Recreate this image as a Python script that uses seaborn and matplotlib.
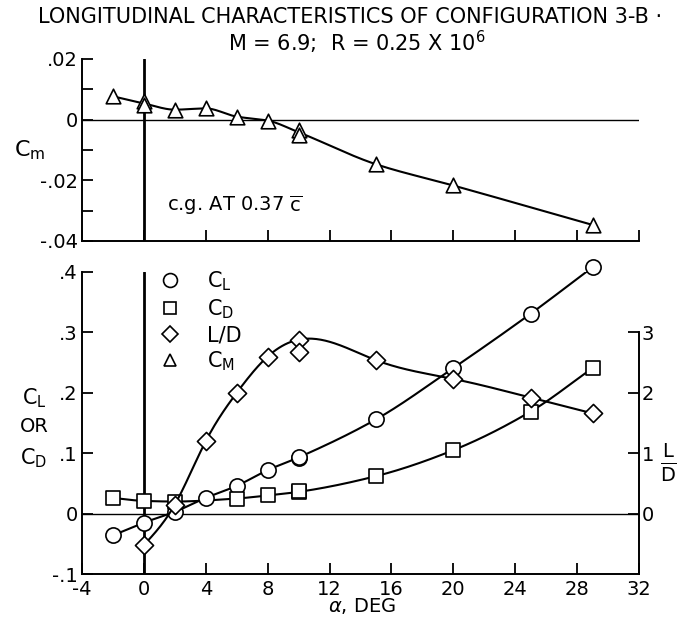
import numpy as np
import matplotlib
matplotlib.use("Agg")
import matplotlib.pyplot as plt
from matplotlib.lines import Line2D
import seaborn as sns

# Pitching moment, C_m
alpha_cm = [-2, 0, 0, 2, 4, 6, 8, 10, 10, 15, 20, 29]
cm = [0.0077, 0.0060, 0.0047, 0.0033, 0.0037, 0.0010, -0.0003, -0.0033, -0.0050, -0.0147, -0.0217, -0.0347]

# Lift coefficient, C_L
alpha_cl = [-2, 0, 2, 4, 6, 8, 10, 10, 15, 20, 25, 29]
cl = [-0.036, -0.015, 0.003, 0.026, 0.046, 0.072, 0.092, 0.094, 0.156, 0.241, 0.331, 0.408]

# Drag coefficient, C_D
alpha_cd = [-2, 0, 2, 6, 8, 10, 10, 15, 20, 25, 29]
cd = [0.026, 0.021, 0.020, 0.025, 0.030, 0.035, 0.037, 0.062, 0.105, 0.169, 0.241]

# Lift-drag ratio, L/D
alpha_ld = [0, 2, 4, 6, 8, 10, 10, 15, 20, 25, 29]
ld = [-0.52, 0.15, 1.20, 2.00, 2.60, 2.88, 2.67, 2.54, 2.23, 1.92, 1.66]

x_ticks = [-4, 0, 4, 8, 12, 16, 20, 24, 28, 32]
cm_ticks = [0.02, 0.0, -0.02, -0.04]
cm_ticklabels = [".02", "0", "-.02", "-.04"]
c_ticks = [0.4, 0.3, 0.2, 0.1, 0.0, -0.1]
c_ticklabels = [".4", ".3", ".2", ".1", "0", "-.1"]
ld_ticks = [3, 2, 1, 0]
ld_ticklabels = ["3", "2", "1", "0"]


def _group(x, y, agg):
    x = np.asarray(x, float)
    y = np.asarray(y, float)
    xs = np.unique(x)
    ys = np.array([agg(y[x == v]) for v in xs])
    return xs, ys


def faired_spline(x, y, agg=np.mean, n=300):
    """Natural cubic spline through the (aggregated) test points."""
    xs, ys = _group(x, y, agg)
    m = len(xs)
    h = np.diff(xs)
    A = np.zeros((m, m))
    b = np.zeros(m)
    A[0, 0] = A[-1, -1] = 1.0
    for i in range(1, m - 1):
        A[i, i - 1] = h[i - 1]
        A[i, i] = 2 * (h[i - 1] + h[i])
        A[i, i + 1] = h[i]
        b[i] = 3 * ((ys[i + 1] - ys[i]) / h[i] - (ys[i] - ys[i - 1]) / h[i - 1])
    c = np.linalg.solve(A, b)
    xx = np.linspace(xs[0], xs[-1], n)
    idx = np.clip(np.searchsorted(xs, xx) - 1, 0, m - 2)
    dx = xx - xs[idx]
    hi = h[idx]
    bb = (ys[idx + 1] - ys[idx]) / hi - hi * (2 * c[idx] + c[idx + 1]) / 3
    dd = (c[idx + 1] - c[idx]) / (3 * hi)
    return xx, ys[idx] + bb * dx + c[idx] * dx ** 2 + dd * dx ** 3


def faired_pchip(x, y, agg=np.mean, n=300):
    """Shape-preserving (monotone) cubic through the (aggregated) test points."""
    xs, ys = _group(x, y, agg)
    h = np.diff(xs)
    delta = np.diff(ys) / h
    d = np.zeros_like(ys)
    for k in range(1, len(xs) - 1):
        if delta[k - 1] * delta[k] > 0:
            w1 = 2 * h[k] + h[k - 1]
            w2 = h[k] + 2 * h[k - 1]
            d[k] = (w1 + w2) / (w1 / delta[k - 1] + w2 / delta[k])
    d[0] = delta[0]
    d[-1] = delta[-1]
    xx = np.linspace(xs[0], xs[-1], n)
    idx = np.clip(np.searchsorted(xs, xx) - 1, 0, len(xs) - 2)
    t = (xx - xs[idx]) / h[idx]
    h00 = 2 * t ** 3 - 3 * t ** 2 + 1
    h10 = t ** 3 - 2 * t ** 2 + t
    h01 = -2 * t ** 3 + 3 * t ** 2
    h11 = t ** 3 - t ** 2
    yy = h00 * ys[idx] + h10 * h[idx] * d[idx] + h01 * ys[idx + 1] + h11 * h[idx] * d[idx + 1]
    return xx, yy


sns.set_theme(style="white")
plt.rcParams["font.family"] = ["DejaVu Sans"]
plt.rcParams["mathtext.fontset"] = "dejavusans"
for key in ("text.color", "axes.labelcolor", "xtick.color", "ytick.color",
            "xtick.labelcolor", "ytick.labelcolor"):
    plt.rcParams[key] = "black"

W, H = 680, 621
fig = plt.figure(figsize=(W / 100, H / 100), dpi=100)
fig.patch.set_facecolor("white")

x0, x1 = 82, 639


def axes_px(left, right, top, bottom):
    return fig.add_axes([left / W, 1 - bottom / H, (right - left) / W, (bottom - top) / H])


ax_top = axes_px(x0, x1, 59, 241)
ax_bot = axes_px(x0, x1, 272, 574)
ax_ld = ax_bot.twinx()

lw = 1.5
mk = dict(facecolor="white", edgecolor="black", linewidth=1.2, zorder=5, legend=False,
          clip_on=False)

for a in (ax_top, ax_bot, ax_ld):
    a.set_facecolor("none")
    a.set_xlim(-4, 32)
    for s in a.spines.values():
        s.set_color("black")
        s.set_linewidth(1.4)
    a.spines["top"].set_visible(False)

# ---- C_m panel ----
ax_top.set_ylim(-0.04, 0.02)
ax_top.spines["right"].set_visible(False)
ax_top.set_yticks(cm_ticks)
ax_top.set_yticklabels(cm_ticklabels)
ax_top.set_yticks([0.01, -0.01, -0.03], minor=True)
ax_top.set_xticks(x_ticks)
ax_top.set_xticklabels([])
ax_top.tick_params(axis="both", which="both", direction="in", length=8, width=1.3,
                   color="black", labelsize=14, pad=3)
ax_top.tick_params(axis="x", which="both", bottom=True)
ax_top.tick_params(axis="y", which="both", left=True)
ax_top.axhline(0, color="black", lw=1.0, zorder=1)
ax_top.axvline(0, color="black", lw=2.0, zorder=1)
xx, yy = faired_pchip(alpha_cm, cm)
sns.lineplot(x=xx, y=yy, ax=ax_top, color="black", lw=lw, sort=False)
sns.scatterplot(x=alpha_cm, y=cm, ax=ax_top, marker="^", s=110, **mk)
ax_top.text(1.5, -0.028, r"c.g. AT 0.37 $\overline{\mathrm{c}}$", fontsize=14,
            ha="left", va="center")

# ---- C_L, C_D, L/D panel ----
ax_bot.set_ylim(-0.1, 0.4)
ax_bot.spines["right"].set_visible(False)
ax_bot.set_yticks(c_ticks)
ax_bot.set_yticklabels(c_ticklabels)
ax_bot.set_xticks(x_ticks)
ax_bot.set_xticklabels([str(t) for t in x_ticks])
ax_bot.tick_params(axis="both", direction="in", length=8, width=1.3, color="black",
                   labelsize=14, pad=3)
ax_bot.tick_params(axis="x", bottom=True, pad=4)
ax_bot.tick_params(axis="y", left=True)
ax_bot.axhline(0, color="black", lw=1.0, zorder=1)
ax_bot.axvline(0, color="black", lw=2.0, zorder=1)

xx, yy = faired_pchip(alpha_cl, cl)
sns.lineplot(x=xx, y=yy, ax=ax_bot, color="black", lw=lw, sort=False)
xx, yy = faired_pchip(alpha_cd, cd)
sns.lineplot(x=xx, y=yy, ax=ax_bot, color="black", lw=lw, sort=False)
sns.scatterplot(x=alpha_cl, y=cl, ax=ax_bot, marker="o", s=120, **mk)
sns.scatterplot(x=alpha_cd, y=cd, ax=ax_bot, marker="s", s=90, **mk)

ax_ld.set_ylim(-1, 4)
ax_ld.spines["left"].set_visible(False)
ax_ld.spines["bottom"].set_visible(False)
ax_ld.spines["right"].set_bounds(-1, 3)
ax_ld.set_yticks(ld_ticks)
ax_ld.set_yticklabels(ld_ticklabels)
ax_ld.tick_params(axis="y", right=True, direction="in", length=8, width=1.3, color="black",
                  labelsize=14, pad=2)
xx, yy = faired_spline(alpha_ld, ld, agg=np.max)
sns.lineplot(x=xx, y=yy, ax=ax_ld, color="black", lw=lw, sort=False)
sns.scatterplot(x=alpha_ld, y=ld, ax=ax_ld, marker="D", s=85, **mk)

# legend
handles = [Line2D([], [], ls="none", marker=m, ms=ms, mfc="white", mec="black", mew=1.2)
           for m, ms in (("o", 10), ("s", 8.5), ("D", 8), ("^", 9))]
ax_ld.legend(handles, [r"C$_\mathrm{L}$", r"C$_\mathrm{D}$", "L/D", r"C$_\mathrm{M}$"],
             loc="upper left", bbox_to_anchor=(0.105, 1.07), frameon=False, fontsize=15,
             handletextpad=1.3, labelspacing=0.2, handlelength=1.0)

# axis titles
fig.text(362 / W, 1 - 606 / H, r"$\alpha$, DEG", fontsize=14, ha="center", va="center")
fig.text(30 / W, 1 - 150 / H, r"C$_\mathrm{m}$", fontsize=16, ha="center", va="center")
fig.text(34 / W, 1 - 398 / H, r"C$_\mathrm{L}$", fontsize=15, ha="center", va="center")
fig.text(34 / W, 1 - 427 / H, "OR", fontsize=14, ha="center", va="center")
fig.text(34 / W, 1 - 458 / H, r"C$_\mathrm{D}$", fontsize=15, ha="center", va="center")
fig.text(668 / W, 1 - 463 / H, r"$\mathdefault{\frac{L}{D}}$", fontsize=20, ha="center", va="center")

fig.text(350 / W, 1 - 17 / H, "LONGITUDINAL CHARACTERISTICS OF CONFIGURATION 3-B \u00b7",
         fontsize=15, ha="center", va="center")
fig.text(357 / W, 1 - 42 / H, r"M = 6.9;  R = 0.25 X 10$^{6}$", fontsize=15,
         ha="center", va="center")

fig.savefig("out.png", dpi=100, facecolor="white")
